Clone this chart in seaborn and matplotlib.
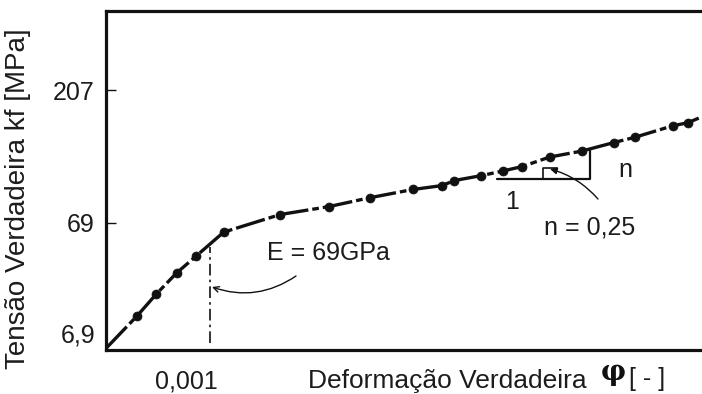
import numpy as np
import matplotlib
matplotlib.use("Agg")
import matplotlib.pyplot as plt
import matplotlib.transforms as mtransforms
import seaborn as sns

# Measured points of the flow curve (true strain, true stress in MPa)
strain_pts = [0.00039, 0.00050, 0.00065, 0.00084, 0.0012, 0.0025, 0.0047,
              0.0080, 0.0140, 0.0205, 0.0240, 0.0340, 0.0450, 0.0580,
              0.0830, 0.1260, 0.1900, 0.2500, 0.4100, 0.5000]
stress_pts = [9.9, 15.6, 24.2, 34.6, 57.0, 74.0, 79.0,
              85.0, 91.0, 94.0, 98.0, 102.0, 106.0, 110.0,
              119.0, 125.0, 134.0, 140.0, 154.0, 158.0]

# Ends of the drawn curve beyond the measured points
curve_start = (0.00026, 5.0)
curve_end = (0.60, 166.0)

# Yield strain marker (E = 69 GPa -> 69 MPa at 0.001)
yield_strain = 0.001
yield_line_stress = [5.6, 42.0]

y_ticks = [6.9, 69, 207]
y_tick_labels = ["6,9", "69", "207"]
x_ticks = [0.001]
x_tick_labels = ["0,001"]

sns.set_style("white")
plt.rcParams["font.family"] = ["Liberation Sans", "DejaVu Sans"]
FS = 18
INK = "#111111"
TXT = "#1c1c1c"

# Schematic stress axis: piecewise logarithmic between the labelled levels
_LOG = np.log10([6.9, 69.0, 207.0])
_POS = np.array([17.0, 127.0, 260.0])
_S1 = (_POS[1] - _POS[0]) / (_LOG[1] - _LOG[0])
_S2 = (_POS[2] - _POS[1]) / (_LOG[2] - _LOG[1])


def fwd(v):
    v = np.asarray(v, dtype=float)
    lg = np.log10(np.clip(v, 1e-9, None))
    return np.where(lg < _LOG[1], _POS[0] + (lg - _LOG[0]) * _S1,
                    _POS[1] + (lg - _LOG[1]) * _S2)


def inv(p):
    p = np.asarray(p, dtype=float)
    return np.where(p < _POS[1], 10 ** (_LOG[0] + (p - _POS[0]) / _S1),
                    10 ** (_LOG[1] + (p - _POS[1]) / _S2))


fig = plt.figure(figsize=(7.02, 3.94), dpi=100)
W, H = 702.0, 394.0
ax = fig.add_axes([106 / W, 1 - 350 / H, (W - 106) / W, (350 - 11) / H])
ax.set_xscale("log")
ax.set_yscale("function", functions=(fwd, inv))
ax.set_xlim(0.00026, 0.60)
ax.set_ylim(float(inv(0.0)), float(inv(339.0)))

curve_x = [curve_start[0]] + strain_pts + [curve_end[0]]
curve_y = [curve_start[1]] + stress_pts + [curve_end[1]]
sns.lineplot(x=curve_x, y=curve_y, sort=False, estimator=None, ax=ax,
             color=INK, linewidth=2.4, linestyle=(0, (9, 1.2, 2, 1.2)))
sns.scatterplot(x=strain_pts, y=stress_pts, ax=ax, color=INK, s=42,
                edgecolor=INK, linewidth=0.5, zorder=4)

# dash-dot line at the yield strain
ax.plot([yield_strain, yield_strain], yield_line_stress, color=INK,
        linewidth=1.2, linestyle=(0, (7, 2.5, 1.5, 2.5)))

# spines and ticks
for side in ("left", "top", "bottom"):
    ax.spines[side].set_visible(True)
    ax.spines[side].set_color(INK)
    ax.spines[side].set_linewidth(2.3)
ax.spines["right"].set_visible(False)

ax.set_yticks(y_ticks)
ax.set_yticklabels(y_tick_labels)
ax.set_xticks(x_ticks)
ax.set_xticklabels(x_tick_labels)
ax.yaxis.set_minor_locator(matplotlib.ticker.NullLocator())
ax.xaxis.set_minor_locator(matplotlib.ticker.NullLocator())
ax.tick_params(axis="y", direction="in", length=7, width=1.0, color=INK,
               labelsize=FS, labelcolor=TXT, pad=8, left=True)
ax.tick_params(axis="x", length=0, labelsize=FS, labelcolor=TXT, pad=14)
ax.yaxis.get_major_ticks()[0].tick1line.set_visible(False)
shift = mtransforms.ScaledTranslation(-0.23, 0, fig.dpi_scale_trans)
for lab in ax.get_xticklabels():
    lab.set_transform(lab.get_transform() + shift)
ax.set_xlabel("")
ax.set_ylabel("")

# axis titles
fig.text(18 / W, 1 - 199 / H, "Tensão Verdadeira kf [MPa]", rotation=90,
         ha="center", va="center", fontsize=20, color=TXT)
fig.text(308 / W, 1 - 381 / H, "Deformação Verdadeira", ha="left",
         va="center", fontsize=19, color=TXT)
fig.text(601 / W, 1 - 372 / H, "φ", ha="left", va="center", fontsize=20,
         fontweight="bold", family=["DejaVu Serif"], color=INK)
fig.text(629 / W, 1 - 379 / H, "[ - ]", ha="left", va="center",
         fontsize=FS, color=TXT)


def af(px, py):
    return ((px - 106) / 596.0, (350 - py) / 339.0)


# Young's modulus note
ax.text(*af(267, 253), "E = 69GPa", transform=ax.transAxes, ha="left",
        va="center", fontsize=FS, color=TXT)
ax.annotate("", xy=af(212, 287), xycoords="axes fraction",
            xytext=af(296, 276), textcoords="axes fraction",
            arrowprops=dict(arrowstyle="->", color=INK, lw=1.0,
                            connectionstyle="arc3,rad=-0.25",
                            shrinkA=0, shrinkB=0))

# slope triangle for the hardening exponent
ax.plot(*zip(af(497, 179), af(590, 179), af(590, 150)),
        transform=ax.transAxes, color=INK, lw=1.6)
ax.plot(*zip(af(543, 179), af(543, 168), af(557, 168)),
        transform=ax.transAxes, color=INK, lw=1.2)
ax.annotate("", xy=af(550, 169), xycoords="axes fraction",
            xytext=af(598, 199), textcoords="axes fraction",
            arrowprops=dict(arrowstyle="-|>", color=INK, lw=1.0,
                            mutation_scale=10,
                            connectionstyle="arc3,rad=0.15",
                            shrinkA=0, shrinkB=0))
ax.text(*af(625, 170), "n", transform=ax.transAxes, ha="center",
        va="center", fontsize=FS, color=TXT)
ax.text(*af(512, 202), "1", transform=ax.transAxes, ha="center",
        va="center", fontsize=FS, color=TXT)
ax.text(*af(590, 228), "n = 0,25", transform=ax.transAxes, ha="center",
        va="center", fontsize=FS, color=TXT)

fig.savefig("out.png", dpi=100)
